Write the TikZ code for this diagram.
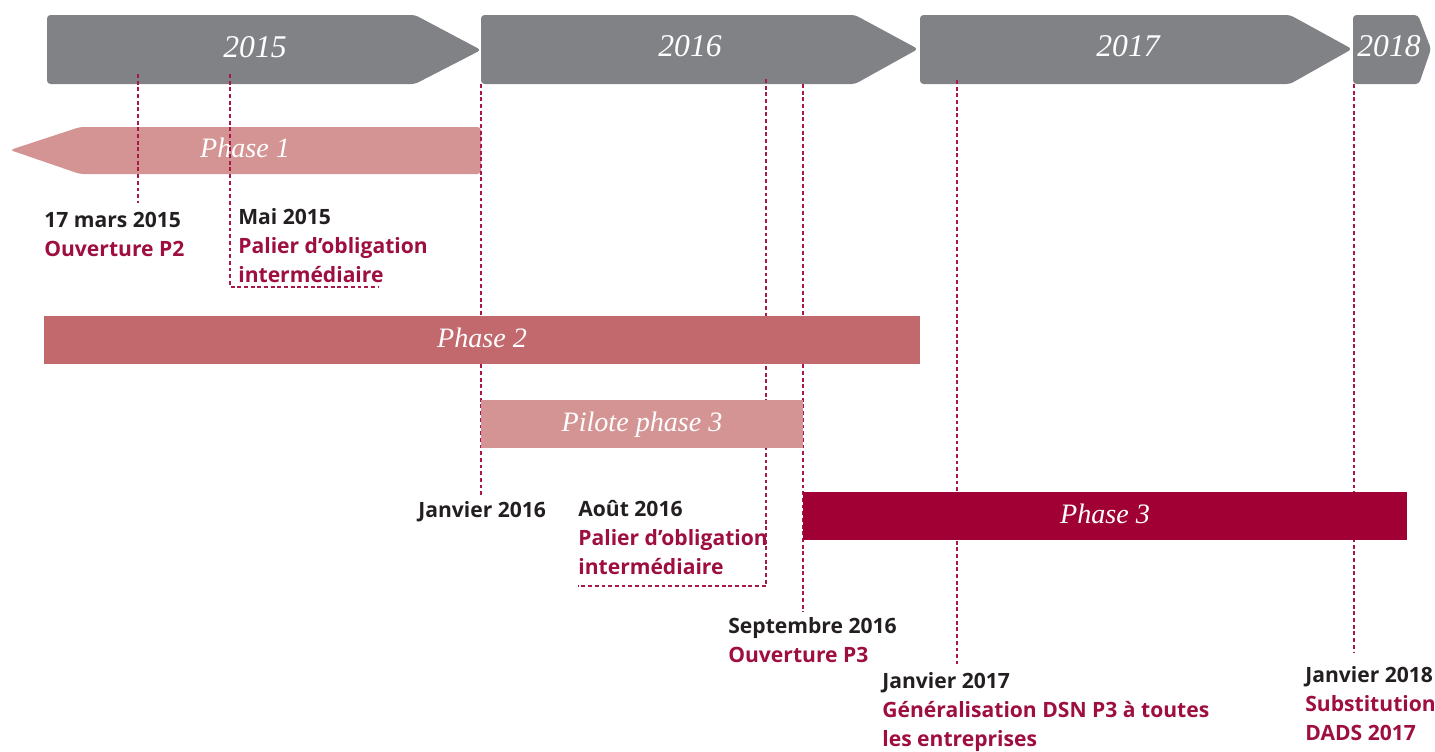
\documentclass[tikz,border=0pt]{standalone}
\usepackage{fontspec}
\setmainfont{Liberation Serif}
\newfontfamily\lblfont{Open Sans}
\usetikzlibrary{positioning}
\definecolor{yeargray}{HTML}{818286}
\definecolor{phaseone}{HTML}{D49494}
\definecolor{phasetwo}{HTML}{C2696E}
\definecolor{phasethree}{HTML}{A00034}
\definecolor{lbldark}{HTML}{231F20}
\definecolor{lblred}{HTML}{9E0E40}
\definecolor{dashcol}{HTML}{A8184A}
\tikzset{
    yearbox/.style = {fill=yeargray, draw=none, rounded corners=2pt},
    yeartext/.style = {inner sep=0pt, text=white, font=\itshape\fontsize{18}{18}\selectfont},
    phasebar/.style = {rectangle, inner sep=0pt, minimum height=0.96cm, text height=0.9em, text depth=0em, text=white, font=\itshape\fontsize{16}{16}\selectfont},
    datelbl/.style = {anchor=north west, inner sep=0pt, align=left, text=lbldark, font=\lblfont\bfseries\fontsize{12}{16.4}\selectfont},
    dashline/.style = {dashcol, line width=0.8pt, dash pattern=on 2.2pt off 1.6pt}
}

\begin{document}
\begin{tikzpicture}[x=0.02cm, y=-0.02cm]
\useasboundingbox (0,0) rectangle (1435,751);
%
\fill[yearbox] (47,15) -- (415,15) -- (481,50) -- (415,84) -- (47,84) -- cycle;
\fill[yearbox] (481,15) -- (855,15) -- (918,49) -- (855,84) -- (481,84) -- cycle;
\fill[yearbox] (920,15) -- (1290,15) -- (1352,49) -- (1290,84) -- (920,84) -- cycle;
\fill[yearbox] (1353,15) -- (1418,15) -- (1431,49) -- (1419,84) -- (1353,84) -- cycle;
\node[yeartext] at (255,47) (y15) {2015};
\node[yeartext] at (690,46) (y16) {2016};
\node[yeartext] at (1128,46) (y17) {2017};
\node[yeartext] at (1389,46) (y18) {2018};
%
\fill[phaseone, rounded corners=2pt] (10,150) -- (80,127) -- (481,127) -- (481,174) -- (80,174) -- cycle;
\node[phasebar] at (245,150) (p1) {Phase 1};
%
\node[datelbl] at (44,212) (mars) {17 mars 2015\\\textcolor{lblred}{Ouverture P2}};
\node[datelbl] at (238,208) (mai) {Mai 2015\\\textcolor{lblred}{Palier d’obligation}\\\textcolor{lblred}{intermédiaire}};
\node[datelbl] at (418,501) (jan16) {Janvier 2016};
\node[datelbl] at (578,500) (aout) {Août 2016\\\textcolor{lblred}{Palier d’obligation}\\\textcolor{lblred}{intermédiaire}};
\node[datelbl] at (728,617) (sept) {Septembre 2016\\\textcolor{lblred}{Ouverture P3}};
\node[datelbl] at (882,672) (jan17) {Janvier 2017\\\textcolor{lblred}{Généralisation DSN P3 à toutes}\\\textcolor{lblred}{les entreprises}};
\node[datelbl] at (1305,666) (jan18) {Janvier 2018\\\textcolor{lblred}{Substitution}\\\textcolor{lblred}{DADS 2017}};
%
\coordinate (t1) at (138,74);  \coordinate (b1) at (138,203);
\coordinate (t2) at (230,74);  \coordinate (b2) at (230,287); \coordinate (e2) at (378,287);
\coordinate (t3) at (481,84);  \coordinate (b3) at (481,495);
\coordinate (t4) at (766,79);  \coordinate (b4) at (766,586); \coordinate (e4) at (578,586);
\coordinate (t5) at (803,84);  \coordinate (b5) at (803,612);
\coordinate (t6) at (957,80);  \coordinate (b6) at (957,664);
\coordinate (t7) at (1354,84); \coordinate (b7) at (1354,652);
%
\draw[dashline] (t1) -- (b1);
\draw[dashline] (t2) -- (b2) -- (e2);
\draw[dashline] (t3) -- (b3);
\draw[dashline] (t4) -- (b4) -- (e4);
\draw[dashline] (t5) -- (b5);
\draw[dashline] (t6) -- (b6);
\draw[dashline] (t7) -- (b7);
%
\node[phasebar, fill=phasetwo, minimum width=17.52cm] at (482,340) (p2) {Phase 2};
\node[phasebar, fill=phaseone, minimum width=6.44cm] at (642,424) (pp3) {Pilote phase 3};
\node[phasebar, fill=phasethree, minimum width=12.08cm] at (1105,516) (p3) {Phase 3};
\end{tikzpicture}
\end{document}
